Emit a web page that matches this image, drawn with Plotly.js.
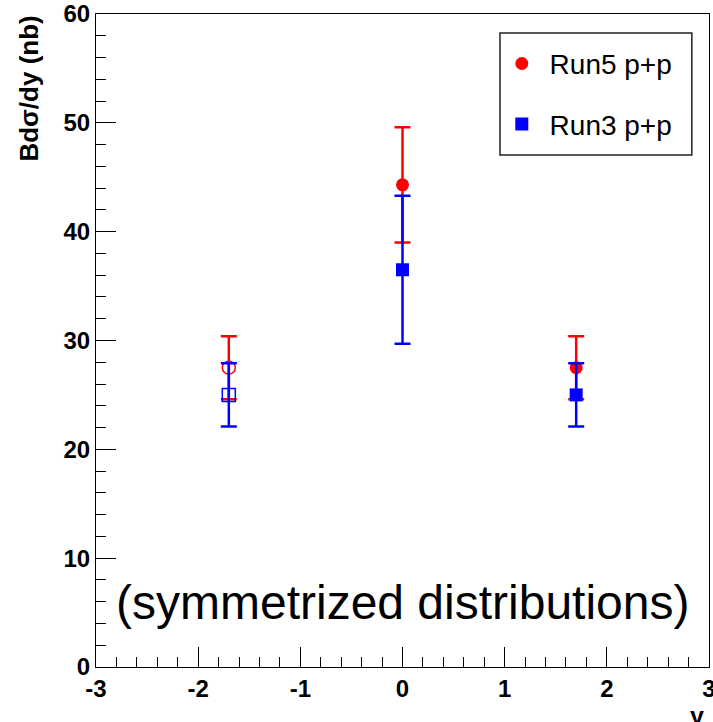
<!DOCTYPE html>
<html>
<head>
<meta charset="utf-8">
<script src="https://cdn.plot.ly/plotly-3.0.1.min.js"></script>
<style>html,body{margin:0;padding:0;background:#fff;}#chart{width:713px;height:722px;}</style>
</head>
<body>
<div id="chart"></div>
<script>
// Run5 p+p (red circles)
const run5X = [-1.7, 0, 1.7];
const run5Y = [27.5, 44.3, 27.5];
const run5Err = [2.9, 5.3, 2.9];
const run5Open = [true, false, false];
// Run3 p+p (blue squares)
const run3X = [-1.7, 0, 1.7];
const run3Y = [25.0, 36.5, 25.0];
const run3Err = [2.9, 6.8, 2.9];
const run3Open = [true, false, false];
// axis ticks
const xTickVals = [-3, -2, -1, 0, 1, 2, 3];
const xTickText = ['-3', '-2', '-1', '0', '1', '2', '3'];
const yTickVals = [0, 10, 20, 30, 40, 50, 60];
const yTickText = ['0', '10', '20', '30', '40', '50', '60'];

const red = '#ff0000', blue = '#0000ff';
const font = 'Liberation Sans, Arial, sans-serif';
const pad = '\u00a0';

function series(xs, ys, errs, opens, name, color, symbol, size) {
  const out = [];
  [false, true].forEach(open => {
    const idx = xs.map((_, i) => i).filter(i => opens[i] === open);
    out.push({
      x: idx.map(i => xs[i]), y: idx.map(i => ys[i]),
      type: 'scatter', mode: 'markers', name: pad + name,
      showlegend: !open, legendgroup: name,
      marker: {symbol: open ? symbol + '-open' : symbol, size: size, color: color,
               line: {color: color, width: open ? 1.5 : 0}},
      error_y: {type: 'data', array: idx.map(i => errs[i]), visible: true,
                color: color, thickness: 2.5, width: 8}
    });
  });
  return out;
}

const traces = [
  ...series(run5X, run5Y, run5Err, run5Open, 'Run5 p+p', red, 'circle', 13),
  ...series(run3X, run3Y, run3Err, run3Open, 'Run3 p+p', blue, 'square', 13)
];

const axisCommon = {
  ticks: 'inside', ticklen: 20, tickwidth: 1, tickcolor: '#000',
  showline: true, linecolor: '#000', linewidth: 1, mirror: true,
  showgrid: false, zeroline: false, ticklabeloverflow: 'allow',
  tickfont: {family: font, size: 24, color: '#000', weight: 'bold'}
};

const layout = {
  width: 713, height: 722,
  margin: {l: 96, r: 4, t: 14, b: 55},
  paper_bgcolor: '#fff', plot_bgcolor: '#fff',
  showlegend: true,
  legend: {x: 0.662, y: 0.962, xanchor: 'left', yanchor: 'top',
           borderwidth: 0, bgcolor: 'rgba(0,0,0,0)',
           font: {family: font, size: 28, color: '#000'},
           traceorder: 'grouped', tracegroupgap: 21, itemwidth: 30},
  xaxis: Object.assign({}, axisCommon, {range: [-3, 3], tickmode: 'array',
          tickvals: xTickVals, ticktext: xTickText,
          minor: {dtick: 0.2, tick0: 0, ticks: 'inside', ticklen: 10, tickcolor: '#000', showgrid: false}}),
  yaxis: Object.assign({}, axisCommon, {range: [0, 60], tickmode: 'array',
          tickvals: yTickVals, ticktext: yTickText,
          minor: {dtick: 2, tick0: 0, ticks: 'inside', ticklen: 10, tickcolor: '#000', showgrid: false}}),
  shapes: [
    {type: 'rect', xref: 'paper', yref: 'paper', x0: 0.659, x1: 0.972, y0: 0.784, y1: 0.971,
     line: {color: '#222', width: 1.5}, fillcolor: 'rgba(0,0,0,0)'}
  ],
  annotations: [
    {text: '(symmetrized distributions)', xref: 'x', yref: 'y', x: 0, y: 5.9,
     showarrow: false, font: {family: font, size: 48, color: '#000'}},
    {text: '<b>Bdσ/dy (nb)</b>', xref: 'paper', yref: 'paper', x: -0.11, y: 1,
     xanchor: 'center', yanchor: 'top', textangle: -90, showarrow: false,
     font: {family: font, size: 26, color: '#000'}},
    {text: '<b>y</b>', xref: 'paper', yref: 'paper', x: 0.995, y: -0.05,
     xanchor: 'right', yanchor: 'top', showarrow: false,
     font: {family: font, size: 25, color: '#000'}}
  ]
};

Plotly.newPlot('chart', traces, layout, {displayModeBar: false, staticPlot: true});
</script>
</body>
</html>
